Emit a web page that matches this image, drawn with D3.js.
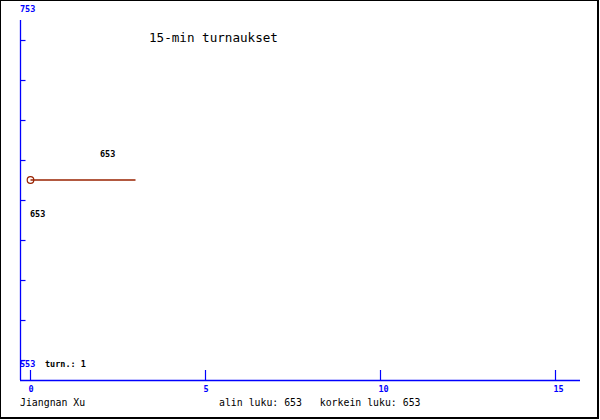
<!DOCTYPE html>
<html>
<head>
<meta charset="utf-8">
<script src="https://cdn.jsdelivr.net/npm/d3@7"></script>
<style>
  html, body { margin: 0; padding: 0; background: #fff; }
  svg { display: block; }
  text { font-family: "DejaVu Sans Mono", "Liberation Mono", monospace; }
</style>
</head>
<body>
<svg id="chart" width="600" height="420"></svg>
<script>
// ---- data ----
const title = "15-min turnaukset";
const player = "Jiangnan Xu";
const seriesX = [0, 3];
const seriesY = [653, 653];
const markerX = [0];
const markerY = [653];
const xTicks = [0, 5, 10, 15];
const yTicks = [563, 583, 603, 623, 643, 663, 683, 703, 723];
const yEndLabels = ["753", "553"];
const minRating = 653;
const maxRating = 653;
const tournamentCount = 1;

// ---- scales ----
const svg = d3.select("#chart");
const x = d3.scaleLinear().domain([0, 15]).range([30.5, 555.5]);
const y = d3.scaleLinear().domain([553, 753]).range([380, -20]);
const blue = "#0000ff";
const red = "#992200";

// frame
svg.append("rect").attr("x", 0).attr("y", 0).attr("width", 598).attr("height", 418)
  .attr("fill", "none").attr("stroke", "#000").attr("stroke-width", 2);

// y axis
svg.append("line").attr("x1", 20.5).attr("x2", 20.5)
  .attr("y1", y(733)).attr("y2", y(553))
  .attr("stroke", blue).attr("stroke-width", 1.3);
svg.selectAll(".ytick").data(yTicks).enter().append("line")
  .attr("x1", 20.5).attr("x2", 25.5)
  .attr("y1", d => Math.round(y(d)) + 0.5).attr("y2", d => Math.round(y(d)) + 0.5)
  .attr("stroke", blue).attr("stroke-width", 1.2);

// x axis
svg.append("line").attr("x1", 20).attr("x2", 580)
  .attr("y1", 380.5).attr("y2", 380.5)
  .attr("stroke", blue).attr("stroke-width", 1.3);
svg.selectAll(".xtick").data(xTicks).enter().append("line")
  .attr("x1", d => x(d)).attr("x2", d => x(d))
  .attr("y1", 370).attr("y2", 380.5)
  .attr("stroke", blue).attr("stroke-width", 1.2);
svg.selectAll(".xlab").data(xTicks).enter().append("text")
  .attr("x", d => x(d) - 2).attr("y", 392)
  .attr("font-size", 8.5).attr("font-weight", "bold").attr("fill", blue)
  .text(d => d);

// y end labels
svg.append("text").attr("x", 20).attr("y", 11.5)
  .attr("font-size", 8.5).attr("font-weight", "bold").attr("fill", blue).text(yEndLabels[0]);
svg.append("text").attr("x", 20).attr("y", 367)
  .attr("font-size", 8.5).attr("font-weight", "bold").attr("fill", blue).text(yEndLabels[1]);

// count label
svg.append("text").attr("x", 45).attr("y", 367)
  .attr("font-size", 8.5).attr("font-weight", "bold").attr("fill", "#000")
  .text("turn.: " + tournamentCount);

// title
svg.append("text").attr("x", 149).attr("y", 41.5)
  .attr("font-size", 12.6).attr("fill", "#000").text(title);

// series
const line = d3.line().x((d, i) => x(seriesX[i])).y((d, i) => y(seriesY[i]));
svg.append("path").datum(seriesX).attr("d", line)
  .attr("fill", "none").attr("stroke", red).attr("stroke-width", 1.5);
svg.selectAll(".mk").data(markerX).enter().append("circle")
  .attr("cx", d => x(d)).attr("cy", (d, i) => y(markerY[i]))
  .attr("r", 3.3).attr("fill", "none").attr("stroke", red).attr("stroke-width", 1.2);

// max / min labels
svg.append("text").attr("x", 100).attr("y", 157)
  .attr("font-size", 8.5).attr("font-weight", "bold").attr("fill", "#000").text(maxRating);
svg.append("text").attr("x", 30).attr("y", 217)
  .attr("font-size", 8.5).attr("font-weight", "bold").attr("fill", "#000").text(minRating);

// footer
svg.append("text").attr("x", 20).attr("y", 406)
  .attr("font-size", 9.85).attr("fill", "#000").text(player);
svg.append("text").attr("x", 219).attr("y", 406)
  .attr("font-size", 9.85).attr("fill", "#000").attr("xml:space", "preserve")
  .style("white-space", "pre")
  .text("alin luku: " + minRating + "   korkein luku: " + maxRating);
</script>
</body>
</html>
